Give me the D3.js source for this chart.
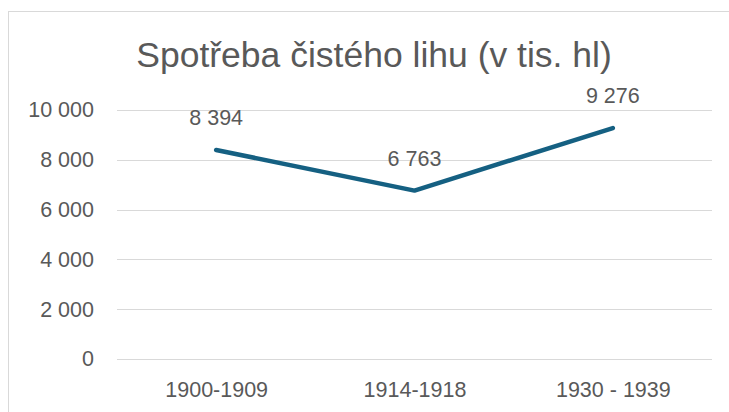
<!DOCTYPE html>
<html>
<head>
<meta charset="utf-8">
<script src="https://cdn.jsdelivr.net/npm/d3@7"></script>
<style>
  body { margin: 0; background: #fff; }
  text { font-family: "Liberation Sans", Arial, sans-serif; fill: #595959; }
</style>
</head>
<body>
<script>
// chart data
const categories = ["1900-1909", "1914-1918", "1930 - 1939"];
const values = [8394, 6763, 9276];
const yTicks = [0, 2000, 4000, 6000, 8000, 10000];
const title = "Spotřeba čistého lihu (v tis. hl)";

const width = 729;
const height = 412;
const margin = { top: 110, right: 17, bottom: 53, left: 117 };
const labelSize = 21.5;

const fmt = v => d3.format(",")(v).replace(/,/g, " ");

const svg = d3.select("body")
  .append("svg")
  .attr("width", width)
  .attr("height", height);

// chart area border
svg.append("rect")
  .attr("x", 8.5)
  .attr("y", 11.5)
  .attr("width", 760)
  .attr("height", 440)
  .attr("fill", "none")
  .attr("stroke", "#d9d9d9");

const x = d3.scalePoint()
  .domain(categories)
  .range([margin.left, width - margin.right])
  .padding(0.5);

const y = d3.scaleLinear()
  .domain([0, 10000])
  .range([height - margin.bottom, margin.top]);

// gridlines
svg.append("g")
  .selectAll("line")
  .data(yTicks)
  .join("line")
  .attr("x1", margin.left)
  .attr("x2", width - margin.right)
  .attr("y1", d => Math.round(y(d)) + 0.5)
  .attr("y2", d => Math.round(y(d)) + 0.5)
  .attr("stroke", "#d9d9d9")
  .attr("stroke-width", 1);

// y axis labels
const yAxis = svg.append("g")
  .attr("transform", `translate(${margin.left - 23},0)`)
  .call(d3.axisLeft(y).tickValues(yTicks).tickFormat(fmt).tickSize(0).tickPadding(0));
yAxis.select(".domain").remove();
yAxis.selectAll("text")
  .attr("font-size", labelSize)
  .attr("font-family", null)
  .style("fill", "#595959");

// x axis labels
const xAxis = svg.append("g")
  .attr("transform", `translate(0,${height - margin.bottom})`)
  .call(d3.axisBottom(x).tickSize(0).tickPadding(23));
xAxis.select(".domain").remove();
xAxis.selectAll("text")
  .attr("font-size", labelSize)
  .attr("font-family", null)
  .style("fill", "#595959");

// line
const line = d3.line()
  .x((d, i) => x(categories[i]))
  .y(d => y(d));

svg.append("path")
  .datum(values)
  .attr("d", line)
  .attr("fill", "none")
  .attr("stroke", "#156082")
  .attr("stroke-width", 4.5)
  .attr("stroke-linecap", "round")
  .attr("stroke-linejoin", "round");

// data labels
svg.append("g")
  .selectAll("text")
  .data(values)
  .join("text")
  .attr("x", (d, i) => x(categories[i]))
  .attr("y", d => y(d) - 25)
  .attr("text-anchor", "middle")
  .attr("font-size", labelSize)
  .text(d => fmt(d));

// title
svg.append("text")
  .attr("x", 374)
  .attr("y", 67)
  .attr("text-anchor", "middle")
  .attr("font-size", 35.5)
  .text(title);
</script>
</body>
</html>
